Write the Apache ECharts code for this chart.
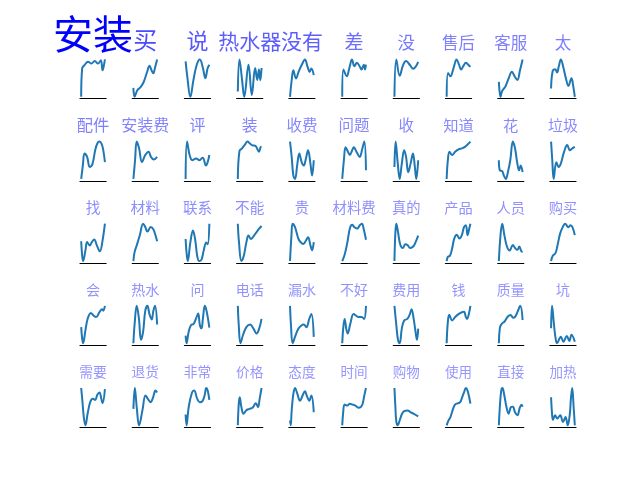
<!DOCTYPE html>
<html><head><meta charset="utf-8">
<script src="https://cdn.jsdelivr.net/npm/echarts@6/dist/echarts.min.js"></script>
<style>html,body{margin:0;padding:0;background:#fff}#c{width:640px;height:480px}</style>
</head><body><div id="c"></div>
<script>
const words = ['安装','买','说','热水器','没有','差','没','售后','客服','太',
  '配件','安装费','评','装','收费','问题','收','知道','花','垃圾',
  '找','材料','联系','不能','贵','材料费','真的','产品','人员','购买',
  '会','热水','问','电话','漏水','不好','费用','钱','质量','坑',
  '需要','退货','非常','价格','态度','时间','购物','使用','直接','加热'];
const wordWeight = [40,24,22,21,21,19,17.5,16.5,16.5,16.5,
  16.3,16,16,15.8,15.5,15.5,15.5,15.3,15.3,15,
  14.8,14.8,14.6,14.6,14.4,14.4,14.3,14.2,14.2,14.2,
  14.1,14.1,14,14,14,14,14,14,13.9,13.9,
  13.8,13.7,13.7,13.6,13.6,13.6,13.5,13.5,13.5,13.5];
const trendT = [
 [0,4,14,29,43,57,71,83,90,96,100],
 [0,5,16,30,43,57,68,77,84,91,100],
 [0,7,20,33,47,60,73,83,93,100],
 [0,7,18,27,45,59,73,82,89,95,100],
 [0,7,14,25,36,49,63,74,83,90,100],
 [0,5,19,30,41,51,62,73,81,91,96,100],
 [0,8,22,36,49,66,79,90,100],
 [0,6,16,29,42,52,61,70,81,91,100],
 [0,7,14,27,41,55,66,78,89,100],
 [0,7,18,25,33,41,52,63,73,86,93,100],
 [0,7,14,25,36,47,59,68,77,86,93,100],
 [0,7,14,24,36,50,64,74,86,100],
 [0,6,17,28,44,58,72,86,93,100],
 [0,7,18,29,41,51,62,75,89,96,100],
 [0,7,14,21,31,39,49,58,67,76,86,93,100],
 [0,7,14,24,32,42,49,60,74,83,93,100],
 [0,5,14,22,31,41,49,58,68,78,86,92,100],
 [0,5,12,23,36,50,64,77,91,100],
 [0,4,14,21,29,38,48,59,68,78,85,92,100],
 [0,5,11,22,32,41,55,68,79,90,100],
 [0,4,8,18,25,36,45,55,66,79,89,100],
 [0,5,16,27,41,50,59,73,84,93,100],
 [0,4,9,20,31,40,49,57,67,76,87,93,100],
 [0,5,15,25,36,45,55,66,79,90,100],
 [0,6,11,21,35,44,56,67,76,86,93,100],
 [0,10,21,32,42,51,63,74,83,90,100],
 [0,4,8,15,25,36,45,55,66,79,90,100],
 [0,5,14,23,32,43,54,64,73,81,88,95,100],
 [0,7,14,23,34,45,59,68,78,86,95,100],
 [0,7,18,27,38,49,59,73,82,90,100],
 [0,4,8,18,27,41,52,63,77,88,93,100],
 [0,5,14,23,32,41,50,59,68,77,84,91,100],
 [0,4,13,23,33,44,53,60,67,73,81,89,100],
 [0,4,11,22,36,52,66,79,90,100],
 [0,4,11,21,35,49,58,69,81,90,100],
 [0,4,10,18,23,34,48,62,73,82,92,100],
 [0,8,15,22,31,41,54,65,72,81,89,95,100],
 [0,5,11,23,36,50,64,73,81,86,95,100],
 [0,4,11,24,38,49,60,69,79,90,100],
 [0,4,11,18,25,36,41,52,66,77,86,100],
 [0,5,11,18,27,38,49,59,68,77,85,90,100],
 [0,6,14,24,38,51,61,72,83,93,100],
 [0,4,13,27,36,49,60,71,80,87,93,100],
 [0,4,8,15,24,35,49,62,76,85,92,100],
 [0,3,7,14,21,31,42,53,63,72,81,90,100],
 [0,4,10,21,32,41,55,68,78,86,93,100],
 [0,4,8,14,22,32,41,55,68,82,100],
 [0,7,16,27,36,46,57,65,73,81,88,95,100],
 [0,4,10,15,23,32,41,51,59,68,78,89,96,100],
 [0,4,8,17,26,34,39,50,61,70,79,84,89,95,100]
];
const trendV = [
 [0,76,85,94,89,96,89,98,71,85,100],
 [24,0,17,26,39,65,83,70,63,78,100],
 [95,55,0,45,86,100,77,50,77,86],
 [14,100,45,0,86,5,77,45,73,44,77],
 [0,45,71,49,67,85,100,80,67,76,58],
 [0,73,55,77,100,82,91,82,73,86,73,86],
 [4,100,58,85,96,85,76,82,94],
 [0,64,55,77,100,86,73,82,91,86,80],
 [40,0,16,27,49,67,55,45,71,100],
 [22,70,74,65,83,100,78,48,29,50,30,0],
 [0,36,68,59,32,39,77,95,100,94,77,45],
 [0,50,100,82,45,64,73,59,52,59],
 [0,100,64,50,55,50,57,36,45,64],
 [0,75,82,91,100,95,90,88,73,85,86],
 [100,59,9,0,41,68,45,36,55,77,41,9,50],
 [0,50,85,73,64,77,85,73,59,77,100,23],
 [32,100,41,0,41,77,59,18,41,68,32,0,50],
 [0,50,73,64,73,79,82,86,94,100],
 [50,23,21,9,0,18,50,100,82,41,23,36,18],
 [100,50,0,45,32,41,73,91,77,82,86],
 [53,15,0,29,51,42,51,58,42,26,51,100],
 [0,24,46,69,100,91,79,91,85,69,53],
 [60,24,2,51,82,60,15,2,6,29,51,46,100],
 [100,51,2,15,51,69,60,67,78,87,94],
 [0,69,100,91,60,51,46,55,64,42,29,51],
 [0,17,48,87,97,91,87,96,100,87,57],
 [0,78,100,78,43,35,45,43,35,39,52,68],
 [2,13,16,35,61,71,61,70,91,96,70,87,100],
 [0,70,100,70,39,28,43,35,30,39,26,24],
 [2,16,22,43,74,91,100,91,96,91,70],
 [43,13,0,35,65,81,74,70,83,91,87,100],
 [0,48,96,65,9,30,83,96,74,61,83,96,48],
 [20,0,30,48,50,65,78,48,39,65,98,83,41],
 [100,48,0,22,43,50,39,26,39,65],
 [100,48,0,17,39,48,50,43,65,78,17],
 [0,39,65,35,26,52,78,72,70,70,65,100],
 [100,48,9,0,39,61,65,78,91,65,30,9,39],
 [0,57,76,61,70,78,83,84,70,65,83,100],
 [0,39,50,57,70,74,67,70,83,98,61],
 [39,98,57,17,0,13,17,4,19,6,22,4],
 [100,66,22,0,31,62,71,68,82,88,71,59,97],
 [44,100,49,0,40,80,71,62,75,93,88],
 [29,0,49,88,93,71,62,65,80,100,93,68],
 [0,58,75,49,31,40,44,47,59,49,71,100],
 [13,0,40,84,100,84,66,80,91,77,66,80,35],
 [0,35,56,53,58,56,53,47,49,58,80,100],
 [100,49,9,0,13,31,38,40,35,31,24],
 [0,12,22,44,56,59,62,75,88,100,93,75,58],
 [0,49,93,100,80,49,31,49,50,35,27,49,55,50],
 [75,31,15,27,18,24,27,9,22,0,31,75,100,49,0]
];

const COLS = 10;
const figW = 640, figH = 480;
const areaL = 0.125*figW, areaR = 0.9*figW, areaT = (1-0.88)*figH, areaB = (1-0.11)*figH;
const nRows = Math.ceil(words.length/COLS);
const cellW = (areaR-areaL)/(COLS + (COLS-1)*1.0);
const cellH = (areaB-areaT)/(nRows + (nRows-1)*1.0);
const wMin = Math.min(...wordWeight), wMax = Math.max(...wordWeight);

const grids=[], xAxes=[], yAxes=[], series=[], texts=[];
words.forEach((w,i)=>{
  const r = Math.floor(i/COLS), c = i%COLS;
  const left = areaL + c*cellW*2, top = areaT + r*cellH*2;
  grids.push({left:left, top:top, width:cellW, height:cellH, containLabel:false});
  xAxes.push({type:'value', gridIndex:i, min:-5, max:105, position:'bottom',
    axisLine:{show:true, onZero:false, lineStyle:{color:'#000', width:1.2}},
    axisTick:{show:false}, axisLabel:{show:false}, splitLine:{show:false}});
  yAxes.push({type:'value', gridIndex:i, show:false, scale:true,
    min:v=>v.min-0.05*(v.max-v.min), max:v=>v.max+0.05*(v.max-v.min),
    splitLine:{show:false}});
  series.push({type:'line', xAxisIndex:i, yAxisIndex:i, smooth:0.4, showSymbol:false, symbol:'none',
    clip:false, silent:true,
    lineStyle:{color:'#1f77b4', width:2}, itemStyle:{color:'#1f77b4'},
    data: trendT[i].map((t,k)=>[t, trendV[i][k]])});
  const t = (wordWeight[i]-wMin)/(wMax-wMin);
  const fs = wordWeight[i];
  const cc = Math.round(150*Math.pow(1-t,1.4));
  const baseline = top - 9;
  texts.push({type:'text', x:left+cellW/2, y:baseline-0.38*fs, silent:true,
    style:{text:w, fill:'rgb('+cc+','+cc+',255)', font: fs+'px "Noto Sans CJK SC"',
      fontSize:fs, fontFamily:'Noto Sans CJK SC',
      textAlign:'center', align:'center', textVerticalAlign:'middle', verticalAlign:'middle'}});
});

const chart = echarts.init(document.getElementById('c'), null, {renderer:'canvas'});
chart.setOption({animation:false, backgroundColor:'#fff',
  grid:grids, xAxis:xAxes, yAxis:yAxes, series:series, graphic:{elements:texts}});
</script></body></html>
